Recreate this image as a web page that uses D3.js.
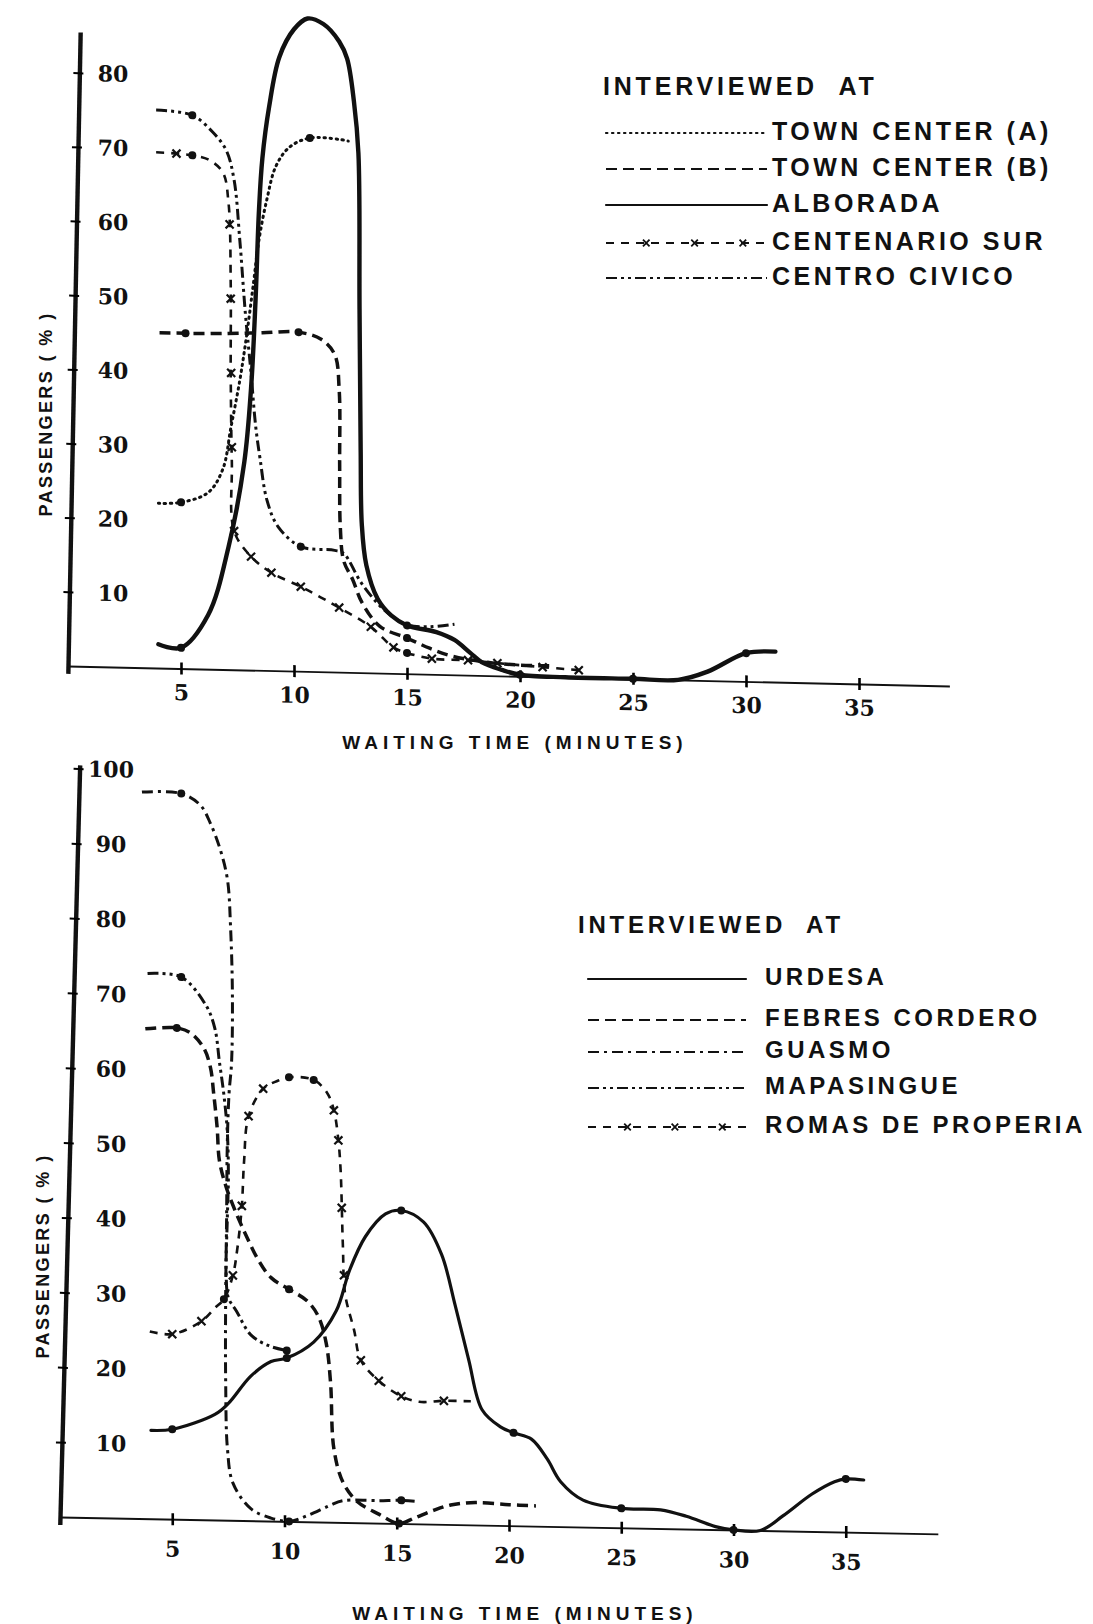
<!DOCTYPE html>
<html>
<head>
<meta charset="utf-8">
<script src="https://cdn.jsdelivr.net/npm/d3@7"></script>
<style>
  body { margin: 0; background: #fff; }
  svg text { font-family: "Liberation Sans", Arial, sans-serif; font-weight: bold; fill: #111; }
  .tick text { font-family: "DejaVu Serif", serif; font-size: 22px; }
</style>
</head>
<body>
<div id="chart"></div>
<script>
// ---- top panel: tick values ----
const topXTicks = [5, 10, 15, 20, 25, 30, 35];
const topYTicks = [10, 20, 30, 40, 50, 60, 70, 80];

// [minutes, % passengers]
const townCenterA = [[4.0,22.2],[5,22.4],[6.2,23.8],[6.85,27],[7.2,32.5],[7.6,39],[7.9,45],[8.2,52],[8.45,58],[8.8,63.5],[9.2,68],[9.8,70.6],[10.7,71.9],[12.0,71.8],[12.4,71.6]];
const townCenterADots = [[5,22.4],[10.7,71.9]];

const townCenterB = [[4.05,45.2],[5.2,45.2],[7,45.3],[8.6,45.5],[10.2,45.7],[11.2,44.8],[11.8,42.8],[12.0,38],[12.02,28],[12.05,19.5],[12.2,15],[12.6,12.5],[13,9.5],[13.8,6.3],[15,4.8],[16,3.5],[17,2.5],[18.5,1.8],[20,1.5],[21.5,1.5]];
const townCenterBDots = [[5.2,45.2],[10.2,45.7],[15,4.8]];

const alborada = [[4.0,3.2],[5,2.8],[6.2,7.3],[7.1,16.5],[7.8,28],[8.1,38],[8.3,50],[8.45,62],[8.6,69],[8.9,76],[9.35,82.7],[10,86.5],[10.6,88],[11.3,87.3],[12.0,85],[12.35,82.7],[12.65,77],[12.85,70],[12.9,49],[12.95,30],[13.0,20],[13.2,14.5],[13.7,10],[14.3,7.8],[15,6.5],[16.3,5.7],[17.1,4.7],[17.8,3],[18.3,1.8],[19.2,0.8],[20,0.2],[22,0],[25,0],[27,0],[28.3,1.2],[30,3.8],[31.3,4.1]];
const alboradaDots = [[5,2.8],[15,6.5],[20,0.2],[25,0],[30,3.8]];

const centenarioSur = [[3.9,69.5],[4.8,69.4],[5.5,69.2],[6.2,68.7],[6.85,67],[7.1,63],[7.2,52],[7.2,40],[7.25,28],[7.35,18.7],[8.1,15.3],[9.0,13.2],[10.3,11.4],[11.2,10],[12.0,8.7],[13.4,6.2],[14.4,3.5],[15,2.8],[16.1,2.1],[17.7,2.0],[19,1.7],[21,1.3],[22.6,1.0]];
const centenarioSurDots = [[5.5,69.2],[15,2.8]];
const centenarioSurCrosses = [[4.8,69.4],[7.15,60],[7.2,50],[7.22,40],[7.25,30],[7.35,18.7],[8.1,15.3],[9,13.2],[10.3,11.4],[12,8.7],[13.4,6.2],[14.4,3.5],[16.1,2.1],[17.7,2],[19,1.7],[21,1.3],[22.6,1]];

const centroCivico = [[3.9,75.2],[5.5,74.6],[6.4,72.4],[7.0,70],[7.35,66],[7.6,58],[7.85,48],[8.1,40],[8.3,33],[8.5,28.5],[8.8,23],[9.3,19.4],[10.3,16.8],[11.8,16.4],[12.2,16],[13,12],[14,8.5],[15,6.6],[16,6.4],[17.1,6.8]];
const centroCivicoDots = [[5.5,74.6],[10.3,16.8]];

// ---- bottom panel ----
const botXTicks = [5, 10, 15, 20, 25, 30, 35];
const botYTicks = [10, 20, 30, 40, 50, 60, 70, 80, 90, 100];

const urdesa = [[4.05,11.8],[5,12],[6.9,14.1],[7.5,15.6],[8.5,19.3],[9.4,21.3],[10.1,21.8],[11.3,24],[12.3,28.2],[12.9,33.7],[13.6,38.2],[14.5,41.3],[15.2,41.8],[16.2,40.3],[17.0,36],[17.6,29.3],[18.2,22.1],[18.8,15.4],[19.6,13.2],[20.2,12.4],[21.0,11.6],[21.7,9],[22.3,6],[23.3,3.6],[25,2.6],[26.75,2.5],[27.9,1.7],[29.2,0.4],[30,0],[31.2,0],[32.2,2],[33.5,5],[34.5,6.7],[35,7.1],[35.8,7]];
const urdesaDots = [[5,12],[10.1,21.8],[15.2,41.8],[20.2,12.4],[25,2.6],[30,0],[35,7.1]];

const febresCordero = [[3.8,65.4],[5.2,65.6],[5.8,65],[6.4,63],[6.7,60.4],[6.85,56.8],[7.0,52.4],[7.1,48],[7.4,44.5],[7.85,41],[8.3,38],[8.8,35],[9.4,32.5],[10.2,31],[11.0,29.5],[11.5,27.5],[11.85,24],[12.05,18.7],[12.2,9.8],[12.6,5.4],[13.25,2.8],[14.2,1.2],[15.1,0],[15.8,0.8],[16.6,1.8],[17.4,2.6],[18.5,3],[20,2.8],[21.2,2.7]];
const febresCorderoDots = [[5.2,65.6],[10.2,31],[15.1,0]];

const guasmo = [[3.65,97],[5.4,96.9],[6.25,95.4],[6.7,93],[7.15,89.4],[7.46,85.5],[7.6,79],[7.68,70],[7.64,61],[7.53,57],[7.45,50],[7.42,40],[7.38,30],[7.38,18.5],[7.46,9.5],[7.7,5],[8.5,1.6],[9.4,0.4],[10.2,0],[11.0,0.8],[12.0,2.2],[12.6,2.9],[14.2,3.0],[15.2,3.1],[15.8,3]];
const guasmoDots = [[5.4,96.9],[10.2,0],[15.2,3.1]];

const mapasingue = [[3.9,72.8],[5.4,72.4],[6.5,68.7],[6.9,65.6],[7.1,61.2],[7.3,56.8],[7.45,52],[7.5,46],[7.45,40],[7.4,33],[7.5,29.7],[7.85,28],[8.5,24.8],[9.3,23.4],[10.1,22.8]];
const mapasingueDots = [[5.4,72.4],[10.1,22.8]];

const romasDeProperia = [[4.0,25],[5,24.7],[6.3,26.5],[6.9,28.3],[7.3,29.5],[7.7,32.7],[7.9,36.3],[8.1,42],[8.2,48],[8.4,54],[9.05,57.7],[9.7,58.8],[10.2,59.3],[11.3,59],[11.9,57.3],[12.2,55],[12.4,51],[12.5,47],[12.6,37],[12.7,30.5],[13.1,25.7],[13.4,21.7],[14.2,19],[15.2,17],[16,16.3],[17.1,16.5],[18.3,16.5]];
const romasDeProperiaDots = [[7.3,29.5],[10.2,59.3],[11.3,59]];
const romasDeProperiaCrosses = [[5,24.7],[6.3,26.5],[7.7,32.7],[8.1,42],[8.4,54],[9.05,57.7],[12.2,55],[12.4,51],[12.55,42],[12.65,33],[13.4,21.7],[14.2,19],[15.2,17],[17.1,16.5]];

// line styles
const styles = {
  dotted:     { dash: "1.4,4.6", width: 3, cap: "round" },
  dashed:     { dash: "11,6", width: 3.5, cap: "butt" },
  solidHeavy: { dash: null, width: 4.4, cap: "round" },
  solid:      { dash: null, width: 3.2, cap: "round" },
  dashDot:    { dash: "11,5,3,5", width: 3, cap: "butt" },
  dashDotDot: { dash: "11,4,3,4,3,4", width: 3, cap: "butt" },
  cross:      { dash: "8,7", width: 2.6, cap: "butt" },
};

const svg = d3.select("#chart").append("svg")
  .attr("width", 1093)
  .attr("height", 1624);

const panels = [
  {
    x0: 68, y0: 666, kx: 22.6, ky: 7.42, xMin: 0, xMax: 39, yMax: 85.5, skew: 1.3, lean: 1.1,
    xTicks: topXTicks, yTicks: topYTicks, labelOffset: 45, xPad: 10,
    xTitle: { x: 515, y: 744 }, yTitle: { x: 47, y: 414 },
    legend: { titleX: 603, titleY: 88, lineX1: 606, lineX2: 767, textX: 772, rows: [133, 169, 205, 243, 278], fontSize: 25 },
    series: [
      { name: "TOWN CENTER (A)", pts: townCenterA, dots: townCenterADots, style: "dotted" },
      { name: "TOWN CENTER (B)", pts: townCenterB, dots: townCenterBDots, style: "dashed" },
      { name: "ALBORADA", pts: alborada, dots: alboradaDots, style: "solidHeavy" },
      { name: "CENTENARIO SUR", pts: centenarioSur, dots: centenarioSurDots, crosses: centenarioSurCrosses, style: "cross" },
      { name: "CENTRO CIVICO", pts: centroCivico, dots: centroCivicoDots, style: "dashDotDot" },
    ],
  },
  {
    x0: 60, y0: 1517, kx: 22.45, ky: 7.49, xMin: 0, xMax: 39.1, yMax: 100.5, skew: 1.1, lean: 1.5,
    xTicks: botXTicks, yTicks: botYTicks, labelOffset: 51, xPad: 16,
    xTitle: { x: 525, y: 1615 }, yTitle: { x: 44, y: 1256 },
    legend: { titleX: 578, titleY: 927, lineX1: 588, lineX2: 746, textX: 765, rows: [979, 1020, 1052, 1088, 1127], fontSize: 24 },
    series: [
      { name: "URDESA", pts: urdesa, dots: urdesaDots, style: "solid" },
      { name: "FEBRES CORDERO", pts: febresCordero, dots: febresCorderoDots, style: "dashed" },
      { name: "GUASMO", pts: guasmo, dots: guasmoDots, style: "dashDot" },
      { name: "MAPASINGUE", pts: mapasingue, dots: mapasingueDots, style: "dashDotDot" },
      { name: "ROMAS DE PROPERIA", pts: romasDeProperia, dots: romasDeProperiaDots, crosses: romasDeProperiaCrosses, style: "cross" },
    ],
  },
];

const crossPath = d3.symbol(d3.symbolTimes, 44);

function strokeLine(sel, st) {
  sel.attr("fill", "none")
    .attr("stroke", "#111")
    .attr("stroke-width", st.width)
    .attr("stroke-linecap", st.cap)
    .attr("stroke-dasharray", st.dash);
}

panels.forEach((p) => {
  const g = svg.append("g").attr("transform", `translate(${p.x0},${p.y0}) skewY(${p.skew})`);

  const x = d3.scaleLinear().domain([p.xMin, p.xMax]).range([p.xMin * p.kx, p.xMax * p.kx]);
  const y = d3.scaleLinear().domain([-1, p.yMax]).range([p.ky, -p.yMax * p.ky]);

  // x axis (thin line with crossing ticks)
  const xa = g.append("g")
    .call(d3.axisBottom(x).tickValues(p.xTicks).tickSize(6).tickSizeOuter(0).tickPadding(p.xPad).tickFormat(d3.format("d")));
  xa.select(".domain").attr("stroke", "#111").attr("stroke-width", 1.8);
  xa.selectAll(".tick line").attr("y1", -6).attr("y2", 6).attr("stroke-width", 2.6);
  xa.selectAll(".tick text").attr("fill", "#111");

  // y axis: leaning heavy line with tick stubs
  const ya = g.append("g")
    .attr("transform", `rotate(${p.lean})`)
    .call(d3.axisRight(y).tickValues(p.yTicks).tickSize(5).tickSizeOuter(0).tickFormat(""));
  ya.select(".domain").attr("stroke", "#111").attr("stroke-width", 4.4);
  ya.selectAll(".tick line").attr("x1", -6).attr("x2", 4).attr("stroke-width", 2);

  // y tick labels stand in an upright column inside the plot
  const yl = g.append("g")
    .call(d3.axisRight(y).tickValues(p.yTicks).tickSize(0).tickFormat(d3.format("d")));
  yl.select(".domain").remove();
  yl.selectAll(".tick text").attr("x", p.labelOffset).attr("text-anchor", "middle").attr("dy", "0.35em").attr("fill", "#111");

  const line = d3.line()
    .x((d) => x(d[0]))
    .y((d) => y(d[1]))
    .curve(d3.curveCatmullRom.alpha(0.5));

  p.series.forEach((s) => {
    g.append("path").datum(s.pts).attr("d", line).call(strokeLine, styles[s.style]);

    g.selectAll(null).data(s.dots).join("circle")
      .attr("cx", (d) => x(d[0]))
      .attr("cy", (d) => y(d[1]))
      .attr("r", 4)
      .attr("fill", "#111");

    if (s.crosses) {
      g.selectAll(null).data(s.crosses).join("path")
        .attr("d", crossPath)
        .attr("transform", (d) => `translate(${x(d[0])},${y(d[1])})`)
        .attr("fill", "none")
        .attr("stroke", "#111")
        .attr("stroke-width", 2.2);
    }
  });

  // axis titles
  svg.append("text")
    .attr("x", p.xTitle.x).attr("y", p.xTitle.y)
    .attr("text-anchor", "middle").attr("dominant-baseline", "middle")
    .style("font-size", "19px").style("letter-spacing", "5px")
    .text("WAITING TIME (MINUTES)");

  svg.append("text")
    .attr("transform", `translate(${p.yTitle.x},${p.yTitle.y}) rotate(-90)`)
    .attr("text-anchor", "middle").attr("dominant-baseline", "middle")
    .style("font-size", "18px").style("letter-spacing", "2.4px")
    .style("white-space", "pre")
    .text("PASSENGERS ( % )");

  // legend
  const lg = p.legend;
  svg.append("text")
    .attr("x", lg.titleX).attr("y", lg.titleY)
    .attr("dominant-baseline", "middle")
    .style("font-size", lg.fontSize + "px").style("letter-spacing", "3.8px")
    .style("white-space", "pre")
    .text("INTERVIEWED  AT");

  p.series.forEach((s, i) => {
    const ry = lg.rows[i];
    svg.append("line")
      .attr("x1", lg.lineX1).attr("x2", lg.lineX2)
      .attr("y1", ry).attr("y2", ry)
      .call(strokeLine, { ...styles[s.style], width: 2.2 });
    if (s.crosses) {
      [0.25, 0.55, 0.85].forEach((f) => {
        svg.append("path")
          .attr("d", d3.symbol(d3.symbolTimes, 30)())
          .attr("transform", `translate(${lg.lineX1 + f * (lg.lineX2 - lg.lineX1)},${ry})`)
          .attr("fill", "none").attr("stroke", "#111").attr("stroke-width", 1.8);
      });
    }
    svg.append("text")
      .attr("x", lg.textX).attr("y", ry)
      .attr("dominant-baseline", "middle")
      .style("font-size", lg.fontSize + "px").style("letter-spacing", "3.5px")
      .text(s.name);
  });
});
</script>
</body>
</html>
